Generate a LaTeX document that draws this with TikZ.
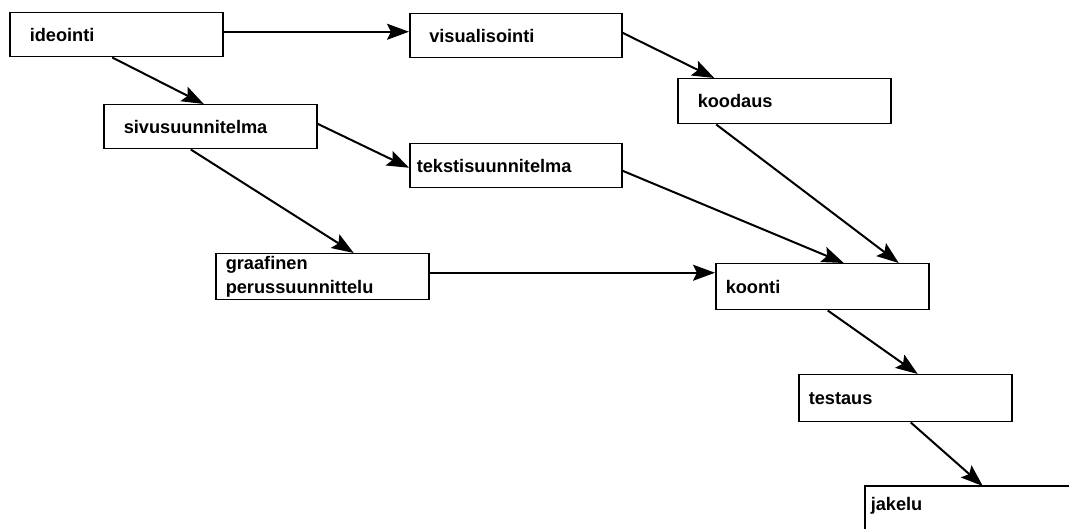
\documentclass[tikz,border=0pt]{standalone}
\usepackage{fontspec}
\setmainfont{Liberation Sans}
\usetikzlibrary{arrows.meta}
\begin{document}
\begin{tikzpicture}[x=1pt,y=-1pt,
  box/.style={draw, line width=1.5pt, anchor=north west, rectangle,
    minimum width=213pt, minimum height=44pt, inner ysep=0pt,
    align=left, text width=#1, font=\bfseries\fontsize{18.2}{24}\selectfont},
  box/.default=173pt,
  arr/.style={line width=2pt, -{Stealth[length=22pt,width=16pt,inset=4pt]}}]
\useasboundingbox (0,0) rectangle (1069,529);

% process steps
\node[box, inner xsep=20pt] (ideo) at (9,12)   {ideointi};
\node[box, inner xsep=19pt, minimum width=212pt] (visu) at (409,13) {visualisointi};
\node[box, inner xsep=20pt, minimum width=212pt, minimum height=45pt] (kood) at (677,78) {koodaus};
\node[box, inner xsep=20pt] (sivu) at (103,104) {sivusuunnitelma};
\node[box=198pt, inner xsep=7pt, minimum width=212pt] (teks) at (409,143) {tekstisuunnitelma};
\node[box=193pt, inner xsep=10pt, minimum height=46pt] (graa) at (215,253) {graafinen\\perussuunnittelu};
\node[box=193pt, inner xsep=10pt, minimum height=46pt] (koon) at (715,263) {koonti};
\node[box=193pt, inner xsep=10pt, minimum height=47pt] (test) at (798,374) {testaus};
\node[box=220pt, draw=none, inner xsep=5pt, minimum width=230pt, minimum height=38pt] (jake) at (865,486) {jakelu};
\draw[line width=1.5pt] (jake.north east) -- (jake.north west) -- ([yshift=-30pt]jake.south west);

% connectors
\draw[arr] ([yshift=3pt]ideo.east) -- ([yshift=3pt]ideo.east -| visu.west);
\draw[arr] ([xshift=-4pt]ideo.south) -- ([xshift=-6.5pt]sivu.north);
\draw[arr] ([yshift=3pt]visu.east) -- ([xshift=-70pt]kood.north);
\draw[arr] ([yshift=3pt]sivu.east) -- ([yshift=-2pt]teks.west);
\draw[arr] ([xshift=-19.5pt]sivu.south) -- ([xshift=31.5pt]graa.north);
\draw[arr] ([xshift=-68pt]kood.south) -- ([xshift=76.5pt]koon.north);
\draw[arr] ([yshift=-5pt]teks.east) -- ([xshift=21.5pt]koon.north);
\draw[arr] ([yshift=4pt]graa.east) -- ([yshift=4pt]graa.east -| koon.west);
\draw[arr] ([xshift=5.5pt]koon.south) -- ([xshift=12.5pt]test.north);
\draw[arr] ([xshift=5.5pt]test.south) -- ([xshift=2pt]jake.north);
\end{tikzpicture}
\end{document}
